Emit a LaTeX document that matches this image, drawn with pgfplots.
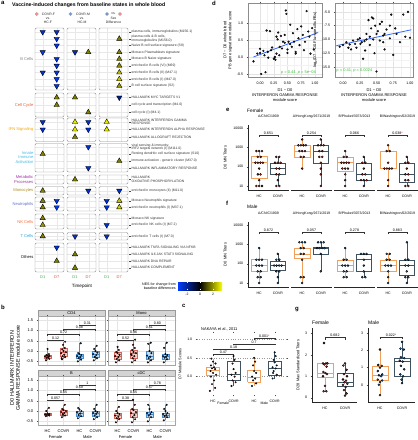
\documentclass[border=0pt]{standalone}
\usepackage{fontspec}
\setmainfont{Liberation Sans}
\usepackage{pgfplots}
\pgfplotsset{compat=1.18}
\newcommand{\fs}[1]{\fontsize{#1}{#1}\selectfont}
\definecolor{hcor}{RGB}{240,160,90}
\definecolor{covr}{RGB}{62,82,96}
\definecolor{fred}{RGB}{196,58,48}
\definecolor{mblu}{RGB}{38,120,198}
\definecolor{fboxc}{RGB}{246,204,198}
\definecolor{mboxc}{RGB}{192,218,240}
\definecolor{flin}{RGB}{212,100,90}
\definecolor{mlin}{RGB}{70,140,205}
\definecolor{rhogreen}{RGB}{60,185,60}
\definecolor{regblue}{RGB}{51,102,255}
\definecolor{nesblue}{RGB}{0,60,255}
\definecolor{dgreen}{RGB}{60,175,70}
\definecolor{dred}{RGB}{215,80,60}
\newcommand{\bxx}[9]{%
 \pgfmathsetmacro{\bxL}{#1-#2}\pgfmathsetmacro{\bxR}{#1+#2}%
 \addplot[#8, line width=0.4pt] coordinates {(#1,#3)(#1,#4)};
 \addplot[#8, line width=0.4pt] coordinates {(#1,#6)(#1,#7)};
 \addplot[#8, line width=0.4pt, fill=#9] coordinates {(\bxL,#4)(\bxR,#4)(\bxR,#6)(\bxL,#6)(\bxL,#4)};
 \addplot[#8, line width=0.8pt] coordinates {(\bxL,#5)(\bxR,#5)};
}
\newcommand{\brk}[6]{%
 \addplot[black!80, line width=0.3pt] coordinates {(#1,#5)(#1,#4)(#2,#4)(#2,#5)};
 \node[font=\fs{3.6}, above, inner sep=0.4pt] at (axis cs:#3,#4) {#6};
}
\pgfplotsset{
  every axis/.append style={scale only axis, anchor=north west,
    /pgf/number format/assume math mode=true,
    tick label style={font=\fs{3.6}}, label style={font=\fs{4}},
    tick align=outside, major tick length=1.3pt,
    every tick/.style={black!70, line width=0.3pt}},
  fx1/.style={yticklabel style={/pgf/number format/fixed, /pgf/number format/fixed zerofill, /pgf/number format/precision=1}},
  fx2/.style={xticklabel style={/pgf/number format/fixed, /pgf/number format/fixed zerofill, /pgf/number format/precision=2}},
  dsty/.style={grid=both, minor tick num=1, minor tick length=0pt,
    major grid style={black!11, line width=0.35pt}, minor grid style={black!5, line width=0.25pt},
    axis line style={black!45, line width=0.4pt},
    label style={font=\fontsize{4}{4.8}\selectfont, align=center}},
  dpts/.style={only marks, mark=*, mark size=0.9pt, mark options={draw=none, fill=black, fill opacity=0.75}},
  fpts/.style={only marks, mark=*, mark size=0.8pt, mark options={draw=none, fill=fred}},
  mpts/.style={only marks, mark=*, mark size=0.8pt, mark options={draw=none, fill=mblu}},
  fptsL/.style={only marks, mark=*, mark size=1pt, mark options={draw=none, fill=fred}},
  mptsL/.style={only marks, mark=*, mark size=1pt, mark options={draw=none, fill=mblu}},
  tfac/.style={width=41pt, height=65pt, xmin=0.4, xmax=2.6,
    xtick={1,2}, xticklabels={HC,COVR}, axis x line*=bottom,
    axis line style={black!85, line width=0.5pt}, clip=false,
    title style={font=\fs{3.5}, at={(0.5,1)}, anchor=south, yshift=0.8pt, inner sep=0pt},
    tick label style={font=\fs{3.5}}},
  bpan/.style={width=67pt, height=49pt, xmin=0.4, xmax=4.6, ymin=-0.68, ymax=1.70,
    xtick={1,2,3,4}, ytick={-0.5,0,0.5,1,1.5}, fx1, grid=major,
    major grid style={black!10, line width=0.35pt}, axis line style={black!35, line width=0.4pt},
    tick label style={font=\fs{4}}, clip=false},
}
\begin{document}
\begin{tikzpicture}
\useasboundingbox (0,0) rectangle (418pt,-440pt);
% ================= Panel a: panel frames and grid
\begin{scope}[x=1pt,y=-1pt]
\foreach \t/\b/\rows in {28/90/{32,38.8,45.5,52.2,59,65.7,72.5,79.2,86}, 93/117/{97.5,105,112.3}, 118/141.5/{122,129.5,137}, 143.5/172/{147,154,161,168}, 175/184/{179.5}, 186.5/195/{190.7}, 197/211/{200.8,207.3}, 214/229/{218.2,225}, 232.5/240/{236.3}, 243/272/{247.5,254.3,261,267.8}} {
  \foreach \cl in {35,67,99} {
    \foreach \r in \rows {\draw[black!9, line width=0.35pt] (\cl,\r) -- (\cl+29,\r);}
    \draw[black!9, line width=0.35pt] (\cl+7.7,\t) -- (\cl+7.7,\b) (\cl+21.7,\t) -- (\cl+21.7,\b);
    \draw[black!45, line width=0.45pt, rounded corners=1.2pt] (\cl,\t) rectangle (\cl+29,\b);
  }
  \foreach \r in \rows {\draw[black!70, line width=0.3pt] (129,\r) -- (130.5,\r);}
}
\shade[left color=nesblue, right color=black] (178,282) rectangle (200,290);
\shade[left color=black, right color=yellow] (200,282) rectangle (222,290);
\foreach \xx in {187,200,213} {\draw[white, line width=0.3pt] (\xx,282) -- (\xx,283.3) (\xx,288.7) -- (\xx,290);}
\end{scope}
% ================= Panel a: triangles
\begin{axis}[at={(0pt,0pt)}, width=210pt, height=295pt, xmin=0, xmax=210, ymin=0, ymax=295, y dir=reverse, hide axis, clip=false,
  colormap={nes}{rgb255(0pt)=(0,60,255); rgb255(34pt)=(0,0,0); rgb255(68pt)=(255,255,0)},
  point meta min=-3.4, point meta max=3.4]
\addplot[scatter, only marks, scatter src=explicit, mark=triangle*, mark size=3.1pt,
  scatter/use mapped color={draw=black, fill=mapped color, line width=0.35pt}] table[meta=nes] {
x y nes
119.3 38.8 1.7
88.3 52.2 1.7
119.3 52.2 1.7
119.3 59 1.8
119.3 65.7 1.8
119.3 72.5 2.5
119.3 79.2 2.7
119.3 86 2.0
56.7 97.5 1.7
75 97.5 1.6
56.7 105 1.7
88.3 112.3 1.7
75 122 3.1
106.7 122 3.1
75 129.5 3.1
106.7 129.5 3.1
75 137 1.7
42.7 154 1.7
119.3 161 1.7
75 179.5 1.7
42.7 190.7 1.7
42.7 200.8 1.7
119.3 200.8 2.6
42.7 207.3 1.7
119.3 207.3 2.8
42.7 218.2 1.7
42.7 225 2.0
42.7 236.3 1.7
75 254.3 1.7
56.7 261 1.7
75 267.8 1.7
};
\addplot[scatter, only marks, scatter src=explicit, mark=triangle*, mark size=3.1pt, mark options={rotate=180},
  scatter/use mapped color={draw=black, fill=mapped color, line width=0.35pt}] table[meta=nes] {
x y nes
42.7 32 -2.7
56.7 32 -2.8
56.7 38.8 -2.8
56.7 45.5 -3.0
42.7 52.2 -3.3
75 52.2 -2.6
56.7 59 -2.9
56.7 65.7 -3.0
42.7 72.5 -2.8
56.7 72.5 -3.1
56.7 79.2 -3.2
56.7 86 -3.0
119.3 97.5 -1.8
42.7 122 -2.8
88.3 122 -2.8
42.7 129.5 -2.8
88.3 129.5 -2.8
88.3 147 -2.8
88.3 168 -2.8
88.3 190.7 -2.8
119.3 190.7 -2.8
56.7 200.8 -3.0
106.7 200.8 -2.8
56.7 207.3 -3.1
106.7 207.3 -2.8
106.7 225 -2.8
75 236.3 -2.8
106.7 236.3 -2.8
56.7 247.5 -2.8
};
\end{axis}
% ================= Panel a: texts
\begin{scope}[x=1pt,y=-1pt]
\node[font=\fs{6}\bfseries, anchor=north west, inner sep=0] at (1,1) {a};
\node[font=\fs{5.2}\bfseries, anchor=west, inner sep=0] at (12,5.5) {Vaccine-induced changes from baseline states in whole blood};
\filldraw[fill=red!45, draw=black!40, line width=0.2pt] (36.7,14) circle (1.7);
\filldraw[fill=cyan!50!blue!60, draw=black!40, line width=0.2pt] (70.5,14) circle (1.7);
\filldraw[fill=cyan!50!blue!60, draw=black!40, line width=0.2pt] (107,14) circle (1.7);
\filldraw[fill=red!45, draw=black!40, line width=0.2pt] (120,14) circle (1.7);
\begin{scope}[every node/.style={font=\fs{3.4}, inner sep=0pt, text=black!85}]
\node at (48.5,14) {COVR-F}; \node at (48,18.5) {vs.}; \node at (48,22.5) {HC-F};
\node at (83,14) {COVR-M}; \node at (82,18.5) {vs.}; \node at (82,22.5) {HC-M};
\node at (113.5,14) {vs.}; \node at (113.5,18.5) {Sex}; \node at (113.5,22.5) {Difference};
\end{scope}
\begin{scope}[every node/.style={font=\fs{3.4}, inner sep=0pt, anchor=west, text=black!80, align=left}]
\node at (131.5,32) {plasma cells, immunoglobulins (M156.1)};
\node at (131.5,38.8) {plasma cells \& B cells,\\immunoglobulins (M156.0)};
\node at (131.5,45.5) {Naive B cell surface signature (S8)};
\node at (131.5,52.2) {Monaco Plasmablasts signature};
\node at (131.5,59) {Monaco B Naive signature};
\node at (131.5,65.7) {enriched in B cells (VI) (M69)};
\node at (131.5,72.5) {enriched in B cells (II) (M47.1)};
\node at (131.5,79.2) {enriched in B cells (I) (M47.0)};
\node at (131.5,86) {B cell surface signature (S2)};
\node at (131.5,97.5) {HALLMARK MYC TARGETS V1};
\node at (131.5,105) {cell cycle and transcription (M4.0)};
\node at (131.5,112.3) {cell cycle (I) (M4.1)};
\node at (131.5,122) {HALLMARK INTERFERON GAMMA\\RESPONSE};
\node at (131.5,129.5) {HALLMARK INTERFERON ALPHA RESPONSE};
\node at (131.5,137) {HALLMARK ALLOGRAFT REJECTION};
\node at (131.5,147) {viral sensing \& immunity;\\IRF2 targets network (I) (M111.0)};
\node at (131.5,154) {Resting dendritic cell surface signature (S10)};
\node at (131.5,161) {immune activation - generic cluster (M37.0)};
\node at (131.5,168) {HALLMARK INFLAMMATORY RESPONSE};
\node at (131.5,179.5) {HALLMARK\\OXIDATIVE PHOSPHORYLATION};
\node at (131.5,190.7) {enriched in monocytes (II) (M11.0)};
\node at (131.5,200.8) {Monaco Neutrophils signature};
\node at (131.5,207.3) {enriched in neutrophils (I) (M37.1)};
\node at (131.5,218.2) {Monaco NK signature};
\node at (131.5,225) {enriched in NK cells (I) (M7.2)};
\node at (131.5,236.3) {enriched in T cells (I) (M7.0)};
\node at (131.5,247.5) {HALLMARK TNFA SIGNALING VIA NFKB};
\node at (131.5,254.3) {HALLMARK IL6 JAK STAT3 SIGNALING};
\node at (131.5,261) {HALLMARK DNA REPAIR};
\node at (131.5,267.8) {HALLMARK COMPLEMENT};
\end{scope}
\begin{scope}[every node/.style={font=\fontsize{4.1}{4.6}\selectfont, inner sep=0pt, anchor=east, align=right}]
\node[text=black!50] at (33.5,59) {B Cells};
\node[text={rgb,255:red,222;green,95;blue,50}] at (33.5,105) {Cell Cycle};
\node[text={rgb,255:red,245;green,165;blue,0}] at (33.5,129.5) {IFN Signaling};
\node[text={rgb,255:red,60;green,185;blue,230}] at (33.5,157.5) {Innate\\Immune\\Activation};
\node[text={rgb,255:red,160;green,50;blue,170}] at (33.5,179.5) {Metabolic\\Processes};
\node[text={rgb,255:red,175;green,135;blue,30}] at (33.5,190.7) {Monocytes};
\node[text={rgb,255:red,100;green,110;blue,200}] at (33.5,204) {Neutrophils};
\node[text={rgb,255:red,245;green,110;blue,60}] at (33.5,221.6) {NK Cells};
\node[text={rgb,255:red,40;green,160;blue,215}] at (33.5,236.3) {T Cells};
\node[text=black] at (33.5,257.5) {Others};
\end{scope}
\begin{scope}[every node/.style={font=\fs{4}, inner sep=0pt}]
\node[text=dgreen] at (42.7,277) {D1}; \node[text=dred] at (56.7,277) {D7};
\node[text=dgreen] at (75,277) {D1}; \node[text=dred] at (88.3,277) {D7};
\node[text=dgreen] at (106.7,277) {D1}; \node[text=dred] at (119.3,277) {D7};
\node[font=\fs{4.6}] at (82,286.5) {Timepoint};
\node[font=\fs{3.6}, align=right, anchor=east] at (176,286) {NES for change from\\[0.6pt]baseline differences};
\node[font=\fs{3.4}] at (187,294) {-2};
\node[font=\fs{3.4}] at (200,294) {0};
\node[font=\fs{3.4}] at (213,294) {2};
\end{scope}
\end{scope}
% other panel letters and titles
\begin{scope}[x=1pt,y=-1pt]
\node[font=\fs{6}\bfseries, anchor=north west, inner sep=0] at (1,305) {b};
\node[font=\fs{6}\bfseries, anchor=north west, inner sep=0] at (182,304) {c};
\node[font=\fs{6}\bfseries, anchor=north west, inner sep=0] at (212,1) {d};
\node[font=\fs{6}\bfseries, anchor=west, inner sep=0] at (226,110) {e};
\node[font=\fs{6}\bfseries, anchor=west, inner sep=0] at (226,203) {f};
\node[font=\fs{6}\bfseries, anchor=west, inner sep=0] at (295,310) {g};
\node[font=\fs{4.8}, anchor=west, inner sep=0] at (247,110.5) {Female};
\node[font=\fs{4.8}, anchor=west, inner sep=0] at (247,207) {Male};
\node[font=\fs{5}, anchor=west, inner sep=0] at (312,323) {Female};
\node[font=\fs{5}, anchor=west, inner sep=0] at (368,323) {Male};
\node[font=\fs{4}, anchor=west, inner sep=0] at (201,329) {NAKAYA et al., 2011};
\end{scope}
% ================= Panel d left
\begin{axis}[at={(248pt,-3pt)}, width=74pt, height=74pt, dsty, fx1, fx2,
  xmin=-0.22, xmax=1.13, ymin=-0.59, ymax=1.59,
  xtick={0,0.25,0.5,0.75,1}, ytick={-0.5,0,0.5,1},
  xlabel={D1 − D0\\INTERFERON GAMMA RESPONSE\\module score},
  ylabel={D7 − D0 whole blood\\PB gene signature module score},
  xlabel style={yshift=2.5pt}, ylabel style={yshift=-2pt}]
\addplot[dpts] coordinates {(-0.12,-0.13)(-0.05,0.1)(0.0,0.24)(0.0,0.12)(0.02,-0.5)(0.06,0.18)(0.08,0.05)(0.1,-0.45)(0.12,0.78)(0.14,0.15)(0.18,0.76)(0.2,0.2)(0.22,0.28)(0.25,-0.05)(0.27,0.0)(0.28,-0.08)(0.3,0.1)(0.3,0.6)(0.32,0.52)(0.35,0.05)(0.36,0.3)(0.38,0.62)(0.4,0.25)(0.42,0.45)(0.45,0.65)(0.47,1.37)(0.48,1.27)(0.5,0.22)(0.5,0.12)(0.52,0.45)(0.55,0.38)(0.55,0.95)(0.58,0.3)(0.6,0.7)(0.62,0.45)(0.65,0.15)(0.65,0.1)(0.68,0.82)(0.7,0.55)(0.72,0.35)(0.75,0.9)(0.78,0.65)(0.8,0.2)(0.82,0.45)(0.85,1.35)(0.88,0.75)(0.9,0.6)(0.92,0.1)(0.95,0.85)(0.98,0.22)(0.15,-0.02)(0.45,0.42)(0.33,0.72)};
\addplot[regblue, line width=0.8pt] coordinates {(-0.12,0.0)(1.06,0.72)};
\node[font=\fs{4}, text=rhogreen, inner sep=0] at (axis cs:0.7,-0.45) {ρ = 0.44, \textit{p} = 5e−04};
\end{axis}
% ================= Panel d right
\begin{axis}[at={(335pt,-3pt)}, width=78pt, height=74pt, dsty, fx1, fx2,
  xmin=-0.12, xmax=1.045, ymin=-16.8, ymax=-3.4,
  xtick={0,0.25,0.5,0.75,1}, ytick={-15,-12.5,-10,-7.5,-5},
  xlabel={D1 − D0\\INTERFERON GAMMA RESPONSE\\module score},
  ylabel={log\textsubscript{2}(D7 − D0 Flu−specific PBs)},
  xlabel style={yshift=2.5pt}, ylabel style={yshift=-2pt}]
\addplot[dpts] coordinates {(-0.05,-11.3)(0.0,-11.0)(0.05,-10.5)(0.08,-11.5)(0.1,-10.9)(0.12,-11.8)(0.15,-10.2)(0.18,-10.8)(0.2,-11.5)(0.22,-10.0)(0.25,-9.8)(0.28,-10.5)(0.3,-13.5)(0.32,-10.3)(0.33,-12.0)(0.35,-10.0)(0.35,-9.0)(0.38,-6.5)(0.4,-9.5)(0.42,-8.0)(0.43,-6.0)(0.45,-6.2)(0.45,-10.0)(0.47,-12.5)(0.48,-7.5)(0.5,-15.8)(0.5,-9.0)(0.52,-8.5)(0.55,-10.2)(0.55,-7.2)(0.58,-6.8)(0.6,-9.3)(0.62,-11.8)(0.62,-9.0)(0.65,-8.2)(0.7,-7.5)(0.72,-5.5)(0.75,-12.8)(0.78,-8.0)(0.8,-9.0)(0.85,-10.5)(0.9,-5.5)(0.93,-9.5)(0.97,-5.0)(1.0,-9.7)(0.4,-11.0)(0.26,-10.8)(0.6,-10.5)(0.7,-9.8)};
\addplot[regblue, line width=0.8pt] coordinates {(-0.1,-11.13)(1.02,-8.25)};
\node[font=\fs{4}, text=rhogreen, inner sep=0] at (axis cs:0.17,-15.6) {ρ = 0.41, \textit{p} = 0.0024};
\end{axis}
% ================= Panel e (Female)
\begin{axis}[ymode=log, ymin=6.2, ymax=14300, yminorticks=false, tfac, at={(248pt,-125pt)}, title={A/CNIC/1909},
  axis y line*=left, ytick={10,100,1000,10000}, yticklabels={10,100,1000,10000}, ylabel={D0 MN Titers}]
\bxx{1}{0.42}{10}{26}{160}{360}{640}{hcor}{white}
\bxx{2}{0.42}{10}{40}{80}{160}{320}{covr}{white}
\addplot[fptsL] coordinates {(0.85,640)(1,640)(1.15,640)(0.92,320)(1.08,320)(0.8,160)(0.93,160)(1.07,160)(1.2,160)(1,80)(0.93,40)(1.07,40)(1,20)(0.85,10)(1,10)(1.15,10)
 (1.92,320)(2.08,320)(1.85,160)(2,160)(2.15,160)(1.92,80)(2.08,80)(1.92,40)(2.08,40)(2,20)(1.92,10)(2.08,10)};
\brk{1}{2}{1.5}{4500}{3400}{0.651}
\end{axis}
\begin{axis}[ymode=log, ymin=6.2, ymax=14300, yminorticks=false, tfac, at={(291pt,-125pt)}, title={A/HongKong/2671/2019},
  axis y line=none, ytick=\empty]
\bxx{1}{0.42}{80}{300}{640}{1280}{2560}{hcor}{white}
\bxx{2}{0.42}{10}{160}{640}{1280}{2560}{covr}{white}
\addplot[fptsL] coordinates {(1,2560)(0.8,1280)(0.93,1280)(1.07,1280)(1.2,1280)(0.85,640)(1,640)(1.15,640)(0.92,320)(1.08,320)(1,80)
 (2,2560)(1.85,1280)(2,1280)(2.15,1280)(1.92,640)(2.08,640)(1.92,320)(2.08,320)(2,160)(2,80)(2,40)(2,10)};
\brk{1}{2}{1.5}{4500}{3400}{0.254}
\end{axis}
\begin{axis}[ymode=log, ymin=6.2, ymax=14300, yminorticks=false, tfac, at={(334pt,-125pt)}, title={B/Phuket/3073/2013},
  axis y line=none, ytick=\empty]
\bxx{1}{0.42}{10}{60}{160}{320}{640}{hcor}{white}
\bxx{2}{0.42}{10}{20}{40}{160}{320}{covr}{white}
\addplot[fptsL] coordinates {(1,10)(1,20)(1,40)(0.85,80)(1,80)(1.15,80)(0.8,160)(0.93,160)(1.07,160)(1.2,160)(0.92,320)(1.08,320)(1,640)
 (2,10)(1.85,20)(2,20)(2.15,20)(1.92,40)(2.08,40)(2,80)(1.92,160)(2.08,160)(2,320)};
\brk{1}{2}{1.5}{4500}{3400}{0.066}
\end{axis}
\begin{axis}[ymode=log, ymin=6.2, ymax=14300, yminorticks=false, tfac, at={(377pt,-125pt)}, title={B/Washington/02/2019},
  axis y line=none, ytick=\empty]
\bxx{1}{0.42}{10}{80}{80}{640}{1280}{hcor}{white}
\bxx{2}{0.42}{10}{15}{40}{160}{320}{covr}{white}
\addplot[fptsL] coordinates {(1,10)(1,20)(0.8,80)(0.93,80)(1.07,80)(1.2,80)(1,160)(0.92,640)(1.08,640)(1,1280)
 (1.92,10)(2.08,10)(1.92,20)(2.08,20)(1.92,40)(2.08,40)(2,80)(1.92,160)(2.08,160)(2,320)};
\brk{1}{2}{1.5}{4500}{3400}{0.038{\color{red}*}}
\end{axis}
% ================= Panel f (Male)
\begin{axis}[ymode=log, ymin=6.2, ymax=14300, yminorticks=false, tfac, at={(248pt,-222pt)}, title={A/CNIC/1909},
  axis y line*=left, ytick={10,100,1000,10000}, yticklabels={10,100,1000,10000}, ylabel={D0 MN Titers}]
\bxx{1}{0.42}{10}{40}{80}{170}{640}{hcor}{white}
\bxx{2}{0.42}{10}{45}{80}{140}{320}{covr}{white}
\addplot[mptsL] coordinates {(1,10)(0.92,20)(1.08,20)(0.92,40)(1.08,40)(0.85,80)(1,80)(1.15,80)(0.85,160)(1,160)(1.15,160)(1,640)
 (2,10)(2,20)(1.92,40)(2.08,40)(1.8,80)(1.93,80)(2.07,80)(2.2,80)(1.92,160)(2.08,160)(2,320)};
\brk{1}{2}{1.5}{4500}{3400}{0.872}
\end{axis}
\begin{axis}[ymode=log, ymin=6.2, ymax=14300, yminorticks=false, tfac, at={(291pt,-222pt)}, title={A/HongKong/2671/2019},
  axis y line=none, ytick=\empty]
\bxx{1}{0.42}{10}{195}{320}{640}{1280}{hcor}{white}
\bxx{2}{0.42}{40}{320}{600}{680}{1280}{covr}{white}
\addplot[mptsL] coordinates {(1,10)(0.92,20)(1.08,20)(1,160)(0.92,320)(1.08,320)(0.92,640)(1.08,640)(0.85,1280)(1,1280)(1.15,1280)
 (2,40)(2,320)(1.8,640)(1.93,640)(2.07,640)(2.2,640)(1.85,1280)(2,1280)(2.15,1280)};
\brk{1}{2}{1.5}{4500}{3400}{0.057}
\end{axis}
\begin{axis}[ymode=log, ymin=6.2, ymax=14300, yminorticks=false, tfac, at={(334pt,-222pt)}, title={B/Phuket/3073/2013},
  axis y line=none, ytick=\empty]
\bxx{1}{0.42}{20}{40}{80}{160}{640}{hcor}{white}
\bxx{2}{0.42}{20}{40}{160}{320}{320}{covr}{white}
\addplot[mptsL] coordinates {(0.92,20)(1.08,20)(0.92,40)(1.08,40)(0.85,80)(1,80)(1.15,80)(0.92,160)(1.08,160)(1,640)
 (1.92,20)(2.08,20)(2,40)(2,80)(2,160)(1.85,320)(2,320)(2.15,320)};
\brk{1}{2}{1.5}{4500}{3400}{0.278}
\end{axis}
\begin{axis}[ymode=log, ymin=6.2, ymax=14300, yminorticks=false, tfac, at={(377pt,-222pt)}, title={B/Washington/02/2019},
  axis y line=none, ytick=\empty]
\bxx{1}{0.42}{10}{40}{80}{160}{320}{hcor}{white}
\bxx{2}{0.42}{10}{25}{80}{160}{1280}{covr}{white}
\addplot[mptsL] coordinates {(1,10)(1,20)(1,40)(0.85,80)(1,80)(1.15,80)(0.92,160)(1.08,160)(0.92,320)(1.08,320)
 (2,10)(1.92,20)(2.08,20)(2,40)(1.92,80)(2.08,80)(1.92,160)(2.08,160)(2,1280)};
\brk{1}{2}{1.5}{4500}{3400}{0.883}
\end{axis}
% ================= Panel b
\begin{scope}[x=1pt,y=-1pt]
\foreach \sx/\sy/\lab in {38/310/CD4, 108/310/Mono, 38/370/B, 108/370/cDC} {
  \filldraw[fill=black!17, draw=black!40, line width=0.35pt] (\sx,\sy) rectangle (\sx+67,\sy+6);
  \node[font=\fs{4}, inner sep=0] at (\sx+33.5,\sy+3.1) {\lab};
}
\node[font=\fontsize{5.4}{6.2}\selectfont, rotate=90, align=center, inner sep=0] at (15,368) {D0 HALLMARK INTERFERON\\GAMMA RESPONSE module score};
\node[font=\fs{4}, inner sep=0] at (55.5,437) {Female};
\node[font=\fs{4}, inner sep=0] at (87.5,437) {Male};
\node[font=\fs{4}, inner sep=0] at (125.5,437) {Female};
\node[font=\fs{4}, inner sep=0] at (157.5,437) {Male};
\end{scope}
\begin{axis}[bpan, at={(38pt,-316pt)}, xticklabels={}]
\bxx{1}{0.22}{-0.45}{-0.35}{-0.28}{-0.2}{0.1}{flin}{fboxc}
\bxx{2}{0.22}{-0.4}{-0.25}{-0.05}{0.15}{0.45}{flin}{fboxc}
\bxx{3}{0.22}{-0.5}{-0.35}{-0.25}{-0.15}{0.38}{mlin}{mboxc}
\bxx{4}{0.22}{-0.45}{-0.3}{-0.18}{0.0}{0.25}{mlin}{mboxc}
\addplot[fpts] coordinates {(0.9,-0.45)(1.1,-0.38)(0.95,-0.33)(1.05,-0.3)(0.85,-0.27)(1.12,-0.25)(1.0,-0.22)(0.92,-0.2)(1.08,-0.15)(1.0,0.1)
 (1.9,-0.4)(2.1,-0.3)(1.95,-0.25)(2.05,-0.18)(1.85,-0.1)(2.15,-0.05)(2.0,0.0)(1.92,0.08)(2.08,0.15)(1.97,0.3)(2.1,0.45)(1.88,-0.35)};
\addplot[mpts] coordinates {(2.9,-0.5)(3.1,-0.42)(2.95,-0.35)(3.05,-0.3)(2.85,-0.25)(3.12,-0.2)(3.0,-0.15)(2.92,-0.1)(3.08,0.38)
 (3.9,-0.45)(4.1,-0.35)(3.95,-0.28)(4.05,-0.2)(3.85,-0.15)(4.12,-0.08)(4.0,0.0)(3.92,0.1)(4.08,0.25)(3.97,-0.3)};
\brk{1}{2}{1.5}{0.55}{0.49}{0.12}
\brk{1}{3}{2}{0.8}{0.74}{0.72}
\brk{2}{4}{3}{1.05}{0.99}{0.38}
\brk{3}{4}{3.5}{1.28}{1.22}{0.31}
\end{axis}
\begin{axis}[bpan, at={(108pt,-316pt)}, xticklabels={}, yticklabels={}]
\bxx{1}{0.22}{-0.55}{-0.4}{-0.25}{-0.05}{0.2}{flin}{fboxc}
\bxx{2}{0.22}{-0.55}{-0.35}{-0.12}{0.05}{0.55}{flin}{fboxc}
\bxx{3}{0.22}{-0.55}{-0.4}{-0.25}{0.0}{0.4}{mlin}{mboxc}
\bxx{4}{0.22}{-0.55}{-0.4}{-0.28}{-0.15}{0.4}{mlin}{mboxc}
\addplot[fpts] coordinates {(0.9,-0.55)(1.1,-0.45)(0.95,-0.38)(1.05,-0.3)(0.85,-0.25)(1.12,-0.18)(1.0,-0.1)(0.92,-0.05)(1.08,0.05)(1.0,0.2)
 (1.9,-0.55)(2.1,-0.45)(1.95,-0.35)(2.05,-0.25)(1.85,-0.15)(2.15,-0.1)(2.0,-0.05)(1.92,0.05)(2.08,0.15)(1.97,0.3)(2.1,0.55)(1.88,-0.2)};
\addplot[mpts] coordinates {(2.9,-0.55)(3.1,-0.45)(2.95,-0.35)(3.05,-0.28)(2.85,-0.22)(3.12,-0.1)(3.0,0.0)(2.92,0.35)(3.08,0.4)
 (3.9,-0.55)(4.1,-0.4)(3.95,-0.32)(4.05,-0.28)(3.85,-0.25)(4.12,-0.2)(4.0,-0.15)(3.92,0.15)(4.08,0.4)};
\brk{1}{2}{1.5}{0.55}{0.49}{0.52}
\brk{1}{3}{2}{0.8}{0.74}{0.96}
\brk{2}{4}{3}{1.05}{0.99}{0.51}
\brk{3}{4}{3.5}{1.28}{1.22}{0.80}
\end{axis}
\begin{axis}[bpan, at={(38pt,-376pt)}, xticklabels={HC,COVR,HC,COVR}]
\bxx{1}{0.22}{-0.25}{-0.22}{-0.17}{-0.12}{0.15}{flin}{fboxc}
\bxx{2}{0.22}{-0.3}{-0.2}{-0.08}{0.05}{0.3}{flin}{fboxc}
\bxx{3}{0.22}{-0.35}{-0.25}{-0.12}{0.0}{0.15}{mlin}{mboxc}
\bxx{4}{0.22}{-0.4}{-0.25}{-0.12}{0.0}{0.3}{mlin}{mboxc}
\addplot[fpts] coordinates {(0.9,-0.25)(1.1,-0.22)(0.95,-0.2)(1.05,-0.18)(0.85,-0.16)(1.12,-0.14)(1.0,-0.12)(0.92,0.0)(1.08,0.15)
 (1.9,-0.3)(2.1,-0.22)(1.95,-0.15)(2.05,-0.1)(1.85,-0.05)(2.15,0.0)(2.0,0.05)(1.92,0.1)(2.08,0.3)(1.97,-0.18)};
\addplot[mpts] coordinates {(2.9,-0.35)(3.1,-0.25)(2.95,-0.2)(3.05,-0.12)(2.85,-0.05)(3.12,0.0)(3.0,0.08)(2.92,0.15)
 (3.9,-0.4)(4.1,-0.3)(3.95,-0.22)(4.05,-0.15)(3.85,-0.1)(4.12,-0.05)(4.0,0.0)(3.92,0.1)(4.08,0.3)};
\brk{1}{2}{1.5}{0.55}{0.49}{0.057}
\brk{1}{3}{2}{0.8}{0.74}{0.65}
\brk{2}{4}{3}{1.05}{0.99}{0.59}
\brk{3}{4}{3.5}{1.28}{1.22}{1}
\end{axis}
\begin{axis}[bpan, at={(108pt,-376pt)}, xticklabels={HC,COVR,HC,COVR}, yticklabels={}]
\bxx{1}{0.22}{-0.55}{-0.35}{-0.22}{-0.1}{0.2}{flin}{fboxc}
\bxx{2}{0.22}{-0.55}{-0.3}{-0.1}{0.1}{0.55}{flin}{fboxc}
\bxx{3}{0.22}{-0.5}{-0.3}{-0.15}{-0.05}{0.3}{mlin}{mboxc}
\bxx{4}{0.22}{-0.45}{-0.3}{-0.2}{-0.1}{0.3}{mlin}{mboxc}
\addplot[fpts] coordinates {(0.9,-0.55)(1.1,-0.4)(0.95,-0.35)(1.05,-0.28)(0.85,-0.22)(1.12,-0.15)(1.0,-0.1)(0.92,0.0)(1.08,0.2)
 (1.9,-0.55)(2.1,-0.4)(1.95,-0.3)(2.05,-0.2)(1.85,-0.1)(2.15,-0.05)(2.0,0.05)(1.92,0.1)(2.08,0.3)(1.97,0.55)};
\addplot[mpts] coordinates {(2.9,-0.5)(3.1,-0.3)(2.95,-0.22)(3.05,-0.15)(2.85,-0.1)(3.12,-0.05)(3.0,0.1)(2.92,0.3)
 (3.9,-0.45)(4.1,-0.3)(3.95,-0.25)(4.05,-0.2)(3.85,-0.15)(4.12,-0.1)(4.0,0.0)(3.92,0.1)(4.08,0.3)};
\brk{1}{2}{1.5}{0.55}{0.49}{0.38}
\brk{1}{3}{2}{0.8}{0.74}{0.65}
\brk{2}{4}{3}{1.05}{0.99}{0.57}
\brk{3}{4}{3.5}{1.28}{1.22}{0.78}
\end{axis}
% ================= Panel c
\begin{axis}[at={(197pt,-333pt)}, width=90pt, height=62pt, xmin=0.22, xmax=4.6, ymin=-0.49, ymax=1.165,
  xtick={1,2,3,4}, xticklabels={HC,COVR,HC,COVR}, ytick={0,0.5,1}, fx1,
  ymajorgrids, grid style={black!40, dotted, line width=0.4pt}, axis line style={draw=none},
  tick label style={font=\fs{3.5}}, ylabel={D7 Module Scores}, ylabel style={font=\fs{3.8}, yshift=-1pt}, clip=false]
\bxx{1}{0.32}{-0.38}{0.05}{0.18}{0.26}{0.48}{hcor}{white}
\bxx{2}{0.32}{-0.25}{-0.1}{0.05}{0.4}{0.55}{covr}{white}
\bxx{3}{0.32}{-0.25}{-0.15}{-0.03}{0.18}{0.5}{hcor}{white}
\bxx{4}{0.32}{-0.05}{0.05}{0.23}{0.4}{0.65}{covr}{white}
\addplot[fpts] coordinates {(0.85,-0.38)(1.1,-0.3)(0.95,-0.2)(1.05,-0.1)(0.9,0.0)(1.15,0.05)(1.0,0.1)(0.88,0.15)(1.1,0.2)(0.95,0.22)(1.05,0.25)(0.9,0.3)(1.12,0.35)(1.0,0.4)(0.92,0.48)
 (1.9,-0.25)(2.1,-0.15)(1.95,-0.1)(2.05,0.0)(1.9,0.05)(2.1,0.1)(2.0,0.2)(1.95,0.35)(2.05,0.45)(2.0,0.55)};
\addplot[mpts] coordinates {(2.9,-0.25)(3.1,-0.18)(2.95,-0.1)(3.05,-0.05)(2.9,0.0)(3.1,0.1)(3.0,0.15)(2.95,0.3)(3.05,0.4)(3.0,0.5)
 (3.9,-0.05)(4.1,0.05)(3.95,0.15)(4.05,0.22)(3.9,0.25)(4.1,0.3)(4.0,0.38)(3.95,0.45)(4.05,0.55)(4.0,0.65)(3.92,0.1)};
\brk{1}{2}{1.5}{0.6}{0.56}{0.47}
\brk{1}{3}{2}{0.74}{0.7}{0.18}
\brk{2}{4}{3}{0.88}{0.84}{0.7}
\brk{3}{4}{3.5}{1.02}{0.98}{0.001{\color{red}*}}
\node[font=\fs{3.5}, inner sep=0, yshift=-8.5pt] at (axis cs:1.5,-0.49) {Female};
\node[font=\fs{3.5}, inner sep=0, yshift=-8.5pt] at (axis cs:3.5,-0.49) {Male};
\end{axis}
% ================= Panel g
\begin{axis}[at={(312pt,-328pt)}, width=45pt, height=74pt, xmin=0.35, xmax=2.6, ymin=-0.2, ymax=3.25,
  xtick={1,2}, xticklabels={HC,COVR}, ytick={0,1,2,3}, axis x line*=bottom, axis y line*=left,
  axis line style={black!85, line width=0.5pt}, tick label style={font=\fs{3.6}}, clip=false,
  ylabel={D28 Max Standardized Titers}, ylabel style={font=\fs{3.9}, yshift=-1pt}]
\bxx{1}{0.4}{0.28}{0.97}{1.14}{1.6}{1.6}{hcor}{white}
\bxx{2}{0.4}{0.08}{0.56}{0.72}{1.14}{1.6}{covr}{white}
\addplot[fptsL] coordinates {(0.95,2.55)(0.9,1.6)(1.05,1.6)(1.12,1.6)(0.97,1.55)(1.08,1.45)(0.92,1.2)(1.02,1.15)(1.1,1.1)(0.9,1.0)(1.0,0.55)(0.93,0.3)(1.07,0.3)
 (2.0,1.6)(1.92,1.5)(2.08,1.3)(1.95,1.1)(2.1,1.0)(1.9,0.85)(2.05,0.8)(1.97,0.72)(2.12,0.65)(1.9,0.6)(2.03,0.5)(1.95,0.35)(2.08,0.2)(2.0,0.1)};
\brk{1}{2}{1.5}{2.82}{2.7}{0.682}
\end{axis}
\begin{axis}[at={(368pt,-328pt)}, width=47pt, height=74pt, xmin=0.455, xmax=2.59, ymin=-1.0, ymax=3.3,
  xtick={1,2}, xticklabels={HC,COVR}, ytick={0,1,2,3}, axis x line*=bottom, axis y line*=left,
  axis line style={black!85, line width=0.5pt}, tick label style={font=\fs{3.6}}, clip=false]
\bxx{1}{0.36}{-0.6}{0.25}{0.55}{1.1}{2.05}{hcor}{white}
\bxx{2}{0.36}{0.05}{0.52}{1.35}{1.55}{2.5}{covr}{white}
\addplot[mptsL] coordinates {(1.0,2.05)(0.92,1.15)(1.08,1.1)(1.0,1.0)(0.9,0.8)(1.1,0.6)(0.95,0.55)(1.05,0.5)(0.9,0.3)(1.1,0.25)(1.0,0.15)(0.95,0.0)(1.0,-0.6)
 (2.0,2.5)(1.93,2.1)(2.08,2.05)(1.95,1.6)(2.1,1.55)(1.9,1.4)(2.03,1.35)(1.95,1.1)(2.1,0.9)(1.92,0.6)(2.05,0.5)(1.98,0.3)(2.0,0.1)};
\brk{1}{2}{1.5}{2.78}{2.65}{0.022{\color{red}*}}
\end{axis}
\end{tikzpicture}
\end{document}
